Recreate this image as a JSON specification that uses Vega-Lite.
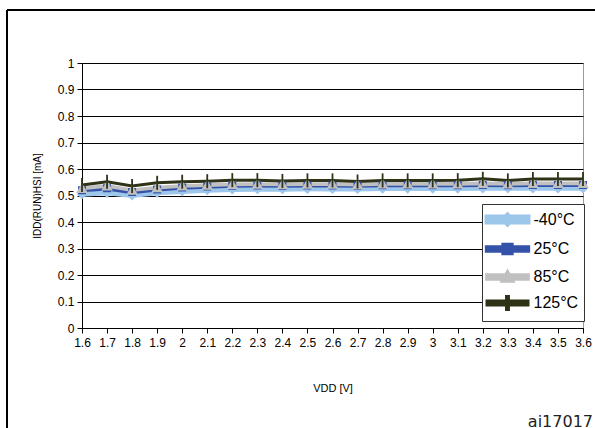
{
  "$schema": "https://vega.github.io/schema/vega-lite/v6.json",
  "width": 501,
  "height": 265,
  "autosize": {"type": "none"},
  "padding": {"left": 82, "top": 63, "right": 12, "bottom": 100},
  "background": "white",
  "title": {
    "text": "ai17017",
    "orient": "bottom",
    "anchor": "end",
    "frame": "group",
    "font": "DejaVu Sans",
    "fontSize": 16,
    "fontWeight": "normal",
    "color": "#222222",
    "baseline": "alphabetic",
    "offset": -8,
    "dx": 10
  },
  "datasets": {
    "idd": [
      {"v": 1.6, "t": "-40°C", "i": 0.505}, {"v": 1.7, "t": "-40°C", "i": 0.51}, {"v": 1.8, "t": "-40°C", "i": 0.5},
      {"v": 1.9, "t": "-40°C", "i": 0.51}, {"v": 2.0, "t": "-40°C", "i": 0.515}, {"v": 2.1, "t": "-40°C", "i": 0.52},
      {"v": 2.2, "t": "-40°C", "i": 0.523}, {"v": 2.3, "t": "-40°C", "i": 0.524}, {"v": 2.4, "t": "-40°C", "i": 0.524},
      {"v": 2.5, "t": "-40°C", "i": 0.525}, {"v": 2.6, "t": "-40°C", "i": 0.525}, {"v": 2.7, "t": "-40°C", "i": 0.525},
      {"v": 2.8, "t": "-40°C", "i": 0.526}, {"v": 2.9, "t": "-40°C", "i": 0.526}, {"v": 3.0, "t": "-40°C", "i": 0.526},
      {"v": 3.1, "t": "-40°C", "i": 0.526}, {"v": 3.2, "t": "-40°C", "i": 0.527}, {"v": 3.3, "t": "-40°C", "i": 0.527},
      {"v": 3.4, "t": "-40°C", "i": 0.527}, {"v": 3.5, "t": "-40°C", "i": 0.527}, {"v": 3.6, "t": "-40°C", "i": 0.527},
      {"v": 1.6, "t": "25°C", "i": 0.52}, {"v": 1.7, "t": "25°C", "i": 0.527}, {"v": 1.8, "t": "25°C", "i": 0.513},
      {"v": 1.9, "t": "25°C", "i": 0.523}, {"v": 2.0, "t": "25°C", "i": 0.53}, {"v": 2.1, "t": "25°C", "i": 0.534},
      {"v": 2.2, "t": "25°C", "i": 0.537}, {"v": 2.3, "t": "25°C", "i": 0.538}, {"v": 2.4, "t": "25°C", "i": 0.537},
      {"v": 2.5, "t": "25°C", "i": 0.538}, {"v": 2.6, "t": "25°C", "i": 0.538}, {"v": 2.7, "t": "25°C", "i": 0.537},
      {"v": 2.8, "t": "25°C", "i": 0.539}, {"v": 2.9, "t": "25°C", "i": 0.539}, {"v": 3.0, "t": "25°C", "i": 0.539},
      {"v": 3.1, "t": "25°C", "i": 0.539}, {"v": 3.2, "t": "25°C", "i": 0.54}, {"v": 3.3, "t": "25°C", "i": 0.539},
      {"v": 3.4, "t": "25°C", "i": 0.54}, {"v": 3.5, "t": "25°C", "i": 0.54}, {"v": 3.6, "t": "25°C", "i": 0.54},
      {"v": 1.6, "t": "85°C", "i": 0.527}, {"v": 1.7, "t": "85°C", "i": 0.536}, {"v": 1.8, "t": "85°C", "i": 0.52},
      {"v": 1.9, "t": "85°C", "i": 0.53}, {"v": 2.0, "t": "85°C", "i": 0.536}, {"v": 2.1, "t": "85°C", "i": 0.539},
      {"v": 2.2, "t": "85°C", "i": 0.542}, {"v": 2.3, "t": "85°C", "i": 0.543}, {"v": 2.4, "t": "85°C", "i": 0.542},
      {"v": 2.5, "t": "85°C", "i": 0.543}, {"v": 2.6, "t": "85°C", "i": 0.543}, {"v": 2.7, "t": "85°C", "i": 0.541},
      {"v": 2.8, "t": "85°C", "i": 0.544}, {"v": 2.9, "t": "85°C", "i": 0.544}, {"v": 3.0, "t": "85°C", "i": 0.544},
      {"v": 3.1, "t": "85°C", "i": 0.544}, {"v": 3.2, "t": "85°C", "i": 0.546}, {"v": 3.3, "t": "85°C", "i": 0.544},
      {"v": 3.4, "t": "85°C", "i": 0.546}, {"v": 3.5, "t": "85°C", "i": 0.546}, {"v": 3.6, "t": "85°C", "i": 0.546},
      {"v": 1.6, "t": "125°C", "i": 0.54}, {"v": 1.7, "t": "125°C", "i": 0.552}, {"v": 1.8, "t": "125°C", "i": 0.536},
      {"v": 1.9, "t": "125°C", "i": 0.548}, {"v": 2.0, "t": "125°C", "i": 0.552}, {"v": 2.1, "t": "125°C", "i": 0.554},
      {"v": 2.2, "t": "125°C", "i": 0.558}, {"v": 2.3, "t": "125°C", "i": 0.558}, {"v": 2.4, "t": "125°C", "i": 0.555},
      {"v": 2.5, "t": "125°C", "i": 0.557}, {"v": 2.6, "t": "125°C", "i": 0.557}, {"v": 2.7, "t": "125°C", "i": 0.553},
      {"v": 2.8, "t": "125°C", "i": 0.557}, {"v": 2.9, "t": "125°C", "i": 0.557}, {"v": 3.0, "t": "125°C", "i": 0.557},
      {"v": 3.1, "t": "125°C", "i": 0.558}, {"v": 3.2, "t": "125°C", "i": 0.563}, {"v": 3.3, "t": "125°C", "i": 0.557},
      {"v": 3.4, "t": "125°C", "i": 0.562}, {"v": 3.5, "t": "125°C", "i": 0.562}, {"v": 3.6, "t": "125°C", "i": 0.562}
    ]
  },
  "resolve": {
    "scale": {"x": "independent", "y": "independent"},
    "axis": {"x": "independent", "y": "independent"}
  },
  "layer": [
    {
      "data": {"name": "idd"},
      "encoding": {
        "x": {
          "field": "v",
          "type": "quantitative",
          "scale": {"domain": [1.6, 3.6], "nice": false, "zero": false},
          "axis": {
            "values": [1.6, 1.7, 1.8, 1.9, 2.0, 2.1, 2.2, 2.3, 2.4, 2.5, 2.6, 2.7, 2.8, 2.9, 3.0, 3.1, 3.2, 3.3, 3.4, 3.5, 3.6],
            "format": "~g",
            "grid": false,
            "labelPadding": 4,
            "labelOverlap": false,
            "labelFlush": false,
            "title": "VDD [V]",
            "titleFontSize": 11,
            "titlePadding": 34
          }
        },
        "y": {
          "field": "i",
          "type": "quantitative",
          "scale": {"domain": [0, 1], "nice": false},
          "axis": {
            "values": [0, 0.1, 0.2, 0.3, 0.4, 0.5, 0.6, 0.7, 0.8, 0.9, 1],
            "format": "~g",
            "grid": true,
            "gridColor": "#000000",
            "gridOpacity": 1,
            "labelOverlap": false,
            "labelPadding": 3,
            "title": "IDD(RUN)HSI [mA]",
            "titleFontSize": 10,
            "titlePadding": 15
          }
        }
      },
      "layer": [
        {
          "mark": {"type": "line", "strokeJoin": "miter"},
          "encoding": {
            "color": {
              "field": "t",
              "type": "nominal",
              "scale": {
                "domain": ["-40°C", "25°C", "85°C", "125°C"],
                "range": ["#9cc6ea", "#3352a8", "#c0c0c0", "#2e3216"]
              },
              "legend": {
                "orient": "none",
                "legendX": 400,
                "legendY": 141,
                "title": null,
                "fillColor": "white",
                "strokeColor": "#333333",
                "padding": 5,
                "symbolSize": 256,
                "symbolStrokeWidth": 0,
                "symbolOffset": 0,
                "columnPadding": 0,
                "labelFontSize": 16,
                "labelFont": "Liberation Sans",
                "labelColor": "#000000",
                "rowPadding": 1.5,
                "labelOffset": 25.5,
                "encode": {
                  "symbols": {
                    "update": {
                      "shape": {"signal": "datum.value === '-40°C' ? 'M-1.31,-0.31H3.81V0.31H-1.31ZM0.69,0L1.25,-0.56L1.81,0L1.25,0.56Z' : datum.value === '25°C' ? 'M-1.31,-0.19H3.81V0.19H-1.31ZM0.75,-0.5H1.75V0.5H0.75Z' : datum.value === '85°C' ? 'M-1.31,-0.25H3.81V0.25H-1.31ZM1.25,-0.6L1.87,0.5H0.63Z' : 'M-1.31,-0.25H3.81V0.25H-1.31ZM1.13,-0.8H1.37V0.8H1.13Z'"},
                      "fill": {"scale": "color", "field": "value"},
                      "fillOpacity": {"value": 1},
                      "stroke": {"value": "transparent"},
                      "strokeWidth": {"value": 0},
                      "opacity": {"value": 1}
                    }
                  }
                }
              }
            },
            "strokeWidth": {
              "field": "t",
              "type": "nominal",
              "scale": {"domain": ["-40°C", "25°C", "85°C", "125°C"], "range": [5, 3, 4, 4]},
              "legend": null
            }
          }
        },
        {
          "transform": [{"filter": "datum.t === '-40°C'"}],
          "mark": {"type": "point", "shape": "diamond", "filled": true, "opacity": 1, "size": 64, "color": "#9cc6ea", "stroke": "#9cc6ea", "strokeWidth": 1.5}
        },
        {
          "transform": [{"filter": "datum.t === '25°C'"}],
          "mark": {"type": "point", "shape": "square", "filled": true, "opacity": 1, "size": 42, "color": "#3352a8", "stroke": "#3352a8", "strokeWidth": 1.5}
        },
        {
          "transform": [{"filter": "datum.t === '85°C'"}],
          "mark": {"type": "point", "shape": "triangle-up", "filled": true, "opacity": 1, "size": 81, "color": "#c0c0c0", "stroke": "#c0c0c0", "strokeWidth": 1.5}
        },
        {
          "transform": [{"filter": "datum.t === '125°C'"}],
          "mark": {"type": "point", "shape": "M0,-1V1", "filled": false, "opacity": 1, "size": 196, "color": "#2e3216", "stroke": "#2e3216", "strokeWidth": 1.8}
        }
      ]
    },
    {
      "data": {"values": [{}]},
      "encoding": {
        "x": {"datum": -0.1497, "type": "quantitative", "scale": {"domain": [0, 1], "nice": false, "zero": false}, "axis": null},
        "y": {"datum": 1.2, "type": "quantitative", "scale": {"domain": [0, 1], "nice": false, "zero": false}, "axis": null}
      },
      "layer": [
        {
          "mark": {"type": "rule", "color": "#000000", "strokeWidth": 2},
          "encoding": {"y2": {"datum": -0.4}}
        },
        {
          "mark": {"type": "rule", "color": "#000000", "strokeWidth": 2},
          "encoding": {"x2": {"datum": 1.05}}
        }
      ]
    }
  ],
  "config": {
    "font": "Liberation Sans",
    "view": {"stroke": "#9a9a9a", "strokeWidth": 1},
    "axis": {
      "domainColor": "#000000",
      "domainWidth": 1,
      "tickColor": "#000000",
      "tickSize": 5,
      "labelColor": "#000000",
      "labelFont": "Liberation Sans",
      "labelFontSize": 12,
      "titleColor": "#000000",
      "titleFont": "Liberation Sans",
      "titleFontWeight": "normal"
    }
  }
}
